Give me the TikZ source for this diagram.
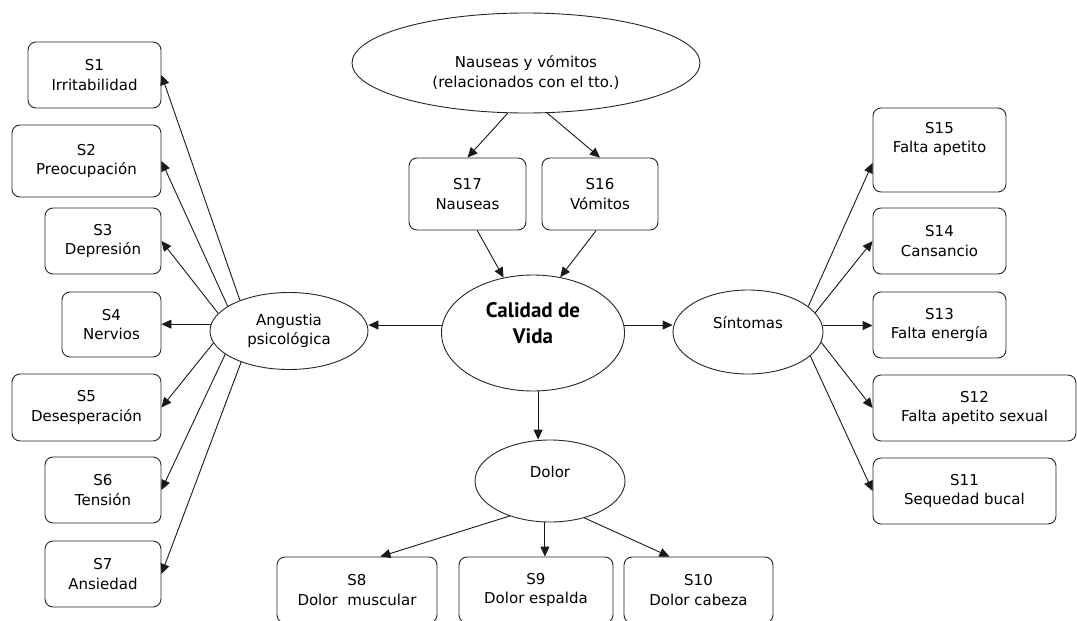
\documentclass[tikz,border=0pt]{standalone}
\usepackage{fontspec}
\setmainfont{DejaVu Sans}
\newfontfamily\calfont{PT Sans}
\usetikzlibrary{shapes.geometric}
\usetikzlibrary{arrows.meta}
\usetikzlibrary{positioning}

\begin{document}
\begin{tikzpicture}[x=1pt,y=-1pt,
  box/.style={draw=black!85,line width=0.9pt,rounded corners=8pt,align=center,inner sep=0pt,font=\fontsize{15}{19.5}\selectfont},
  oval/.style={draw=black!85,line width=0.9pt,ellipse,inner sep=0pt,align=center,font=\fontsize{15}{19.5}\selectfont},
  lbl/.style={align=center,inner sep=0pt,font=\fontsize{15}{19.5}\selectfont},
  arr/.style={black!90,line width=0.9pt,-{Triangle[length=10pt,width=9pt]}}]
\useasboundingbox (0,0) rectangle (1077,621);

\node[box,minimum width=133pt,minimum height=66pt] (s1) at (94.5,75) {S1\\Irritabilidad};
\node[box,minimum width=149pt,minimum height=72pt] (s2) at (86.5,161) {S2\\Preocupación};
\node[box,minimum width=116pt,minimum height=66pt] (s3) at (103,241) {S3\\Depresión};
\node[box,minimum width=99pt,minimum height=65pt] (s4) at (111.5,324.5) {S4\\Nervios};
\node[box,minimum width=149pt,minimum height=67pt] (s5) at (86.5,407.5) {S5\\Desesperación};
\node[box,minimum width=116pt,minimum height=66pt] (s6) at (103,490) {S6\\Tensión};
\node[box,minimum width=116pt,minimum height=66pt] (s7) at (103,574) {S7\\Ansiedad};

\node[box,minimum width=160pt,minimum height=66pt] (s8) at (357,590) {S8\\Dolor\ \ muscular};
\node[box,minimum width=154pt,minimum height=66pt] (s9) at (536,590) {S9\\Dolor espalda};
\node[box,minimum width=149pt,minimum height=66pt] (s10) at (698.5,590) {S10\\Dolor cabeza};

\node[box,minimum width=183pt,minimum height=66pt] (s11) at (964.5,491) {S11\\Sequedad bucal};
\node[box,minimum width=203pt,minimum height=66pt] (s12) at (974.5,408) {S12\\Falta apetito sexual};
\node[box,minimum width=133pt,minimum height=66pt] (s13) at (939.5,325) {S13\\Falta energía};
\node[box,minimum width=133pt,minimum height=66pt] (s14) at (939.5,241) {S14\\Cansancio};
\node[box,minimum width=133pt,minimum height=84pt] (s15) at (939.5,150) {S15\\Falta apetito\\\strut};

\node[box,minimum width=117pt,minimum height=72pt] (s17) at (467.5,194) {S17\\Nauseas};
\node[box,minimum width=116pt,minimum height=72pt] (s16) at (600,194) {S16\\Vómitos};

\node[oval,minimum width=348pt,minimum height=100pt] (nau) at (526,63) {};
\node[lbl] (naut) at (526,72.5) {Nauseas y vómitos\\(relacionados con el tto.)};
\node[oval,minimum width=183pt,minimum height=116pt] (cal) at (533,333) {};
\node[lbl,font=\calfont\bfseries\fontsize{21}{26}\selectfont] (calt) at (533,323) {Calidad de\\Vida};
\node[oval,minimum width=158pt,minimum height=77pt] (ang) at (289,331) {Angustia\\psicológica};
\node[oval,minimum width=150pt,minimum height=84pt] (sint) at (748,332) {};
\node[lbl] (sintt) at (748,323) {Síntomas};
\node[oval,minimum width=150pt,minimum height=82pt] (dol) at (550,481) {};
\node[lbl] (dolt) at (550,472) {Dolor};

\draw[arr] (nau.250) -- (s17.north);
\draw[arr] (nau.293) -- (s16.north);
\draw[arr] (s17.285) -- (cal.118);
\draw[arr] (s16.264) -- (cal.64);
\draw[arr] (cal.175) -- (cal.175 -| ang.east);
\draw[arr] (cal.5) -- (cal.5 -| sint.west);
\draw[arr] (cal.275) -- (cal.275 |- dol.north);

\draw[arr] (ang.148) -- (s1.east);
\draw[arr] (ang.158) -- (s2.east);
\draw[arr] (ang.166) -- (s3.east);
\draw[arr] (ang.175) -- (ang.175 -| s4.east);
\draw[arr] (ang.189) -- (s5.east);
\draw[arr] (ang.200) -- (s6.east);
\draw[arr] (ang.213) -- (s7.east);

\draw[arr] (sint.23) -- (s15.191);
\draw[arr] (sint.16) -- (s14.west);
\draw[arr] (sint.5) -- (sint.5 -| s13.west);
\draw[arr] (sint.352) -- (s12.west);
\draw[arr] (sint.339) -- (s11.west);

\draw[arr] (dol.221) -- (s8.55);
\draw[arr] (dol.263) -- (dol.263 |- s9.north);
\draw[arr] (dol.313) -- (s10.131);
\end{tikzpicture}
\end{document}
